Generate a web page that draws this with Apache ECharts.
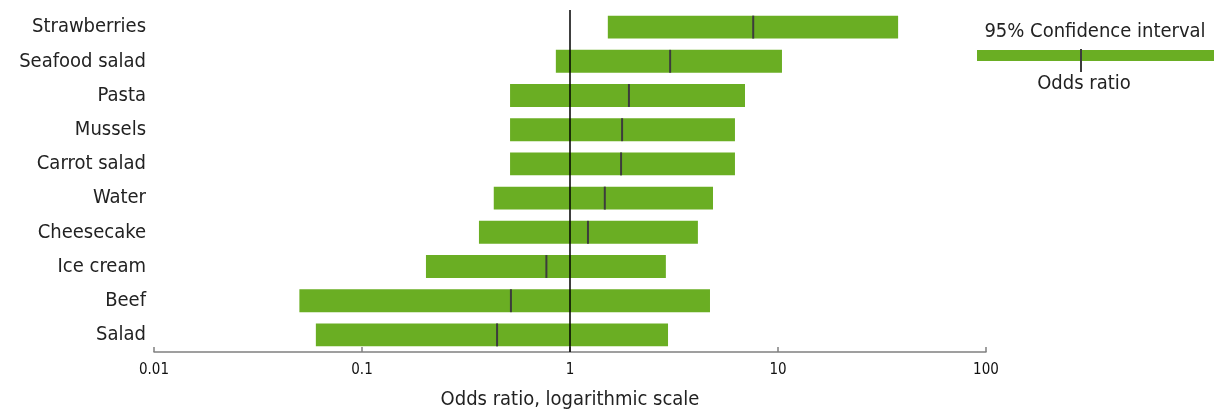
<!DOCTYPE html>
<html>
<head>
<meta charset="utf-8">
<script src="https://cdn.jsdelivr.net/npm/echarts@6/dist/echarts.min.js"></script>
<style>
html,body{margin:0;padding:0;background:#fff;}
#chart{width:1224px;height:416px;}
</style>
</head>
<body>
<div id="chart"></div>
<script>
var categories = ['Strawberries','Seafood salad','Pasta','Mussels','Carrot salad','Water','Cheesecake','Ice cream','Beef','Salad'];
var ciLow  = [1.52, 0.855, 0.515, 0.515, 0.515, 0.43, 0.365, 0.203, 0.050, 0.060];
var ciHigh = [37.8, 10.45, 6.94, 6.21, 6.21, 4.87, 4.12, 2.89, 4.71, 2.96];
var oddsRatio = [7.6, 3.03, 1.92, 1.78, 1.76, 1.47, 1.22, 0.77, 0.52, 0.446];
var tickLabels = ['0.01','0.1','1','10','100'];

var FONT = '"DejaVu Sans Condensed", "DejaVu Sans", sans-serif';
var GREEN = '#6aae23';

var data = categories.map(function(c, i){ return [i, ciLow[i], ciHigh[i], oddsRatio[i]]; });

var chart = echarts.init(document.getElementById('chart'), null, {renderer:'canvas'});
chart.setOption({
  animation:false,
  grid:{left:154, right:238, top:10, bottom:64, containLabel:false},
  xAxis:{
    type:'log', logBase:10, min:0.01, max:100,
    name:'Odds ratio, logarithmic scale', nameLocation:'middle', nameGap:38,
    nameTextStyle:{fontFamily:FONT, fontSize:20, color:'#222'},
    axisLine:{show:true, lineStyle:{color:'#808080', width:1.5}},
    axisTick:{show:true, inside:true, length:5, lineStyle:{color:'#808080', width:1.5}},
    splitLine:{show:false},
    minorTick:{show:false},
    axisLabel:{fontFamily:FONT, fontSize:15, color:'#111', margin:11,
      formatter:function(v){
        var e = Math.round(Math.log10(v));
        return tickLabels[e+2] !== undefined ? tickLabels[e+2] : '';
      }}
  },
  yAxis:{
    type:'category', data:categories, inverse:true,
    axisLine:{show:false}, axisTick:{show:false}, splitLine:{show:false},
    axisLabel:{fontFamily:FONT, fontSize:20, color:'#222', margin:8}
  },
  series:[{
    type:'custom',
    data:data,
    encode:{x:[1,2,3], y:0},
    renderItem:function(params, api){
      var cat = api.value(0);
      var p1 = api.coord([api.value(1), cat]);
      var p2 = api.coord([api.value(2), cat]);
      var pm = api.coord([api.value(3), cat]);
      var h = api.size([0,1])[1] * 0.67;
      return {
        type:'group',
        children:[
          {type:'rect', shape:{x:p1[0], y:p1[1]-h/2, width:p2[0]-p1[0], height:h},
           style:{fill:GREEN}},
          {type:'line', shape:{x1:pm[0], y1:p1[1]-h/2, x2:pm[0], y2:p1[1]+h/2},
           style:{stroke:'#3c3c3c', lineWidth:2}}
        ]
      };
    },
    markLine:{
      silent:true, symbol:'none', label:{show:false},
      lineStyle:{color:'#000', width:1.5, type:'solid'},
      data:[{xAxis:1}],
      z:10
    }
  }],
  graphic:[
    {type:'text', x:1095, y:32,
     style:{text:'95% Confidence interval', font:'20px '+FONT, fill:'#222', textAlign:'center', textVerticalAlign:'middle'}},
    {type:'rect', shape:{x:977, y:50, width:237, height:11}, style:{fill:GREEN}},
    {type:'line', shape:{x1:1081, y1:49, x2:1081, y2:72}, style:{stroke:'#3c3c3c', lineWidth:2}},
    {type:'text', x:1084, y:84,
     style:{text:'Odds ratio', font:'20px '+FONT, fill:'#222', textAlign:'center', textVerticalAlign:'middle'}}
  ]
});
</script>
</body>
</html>
